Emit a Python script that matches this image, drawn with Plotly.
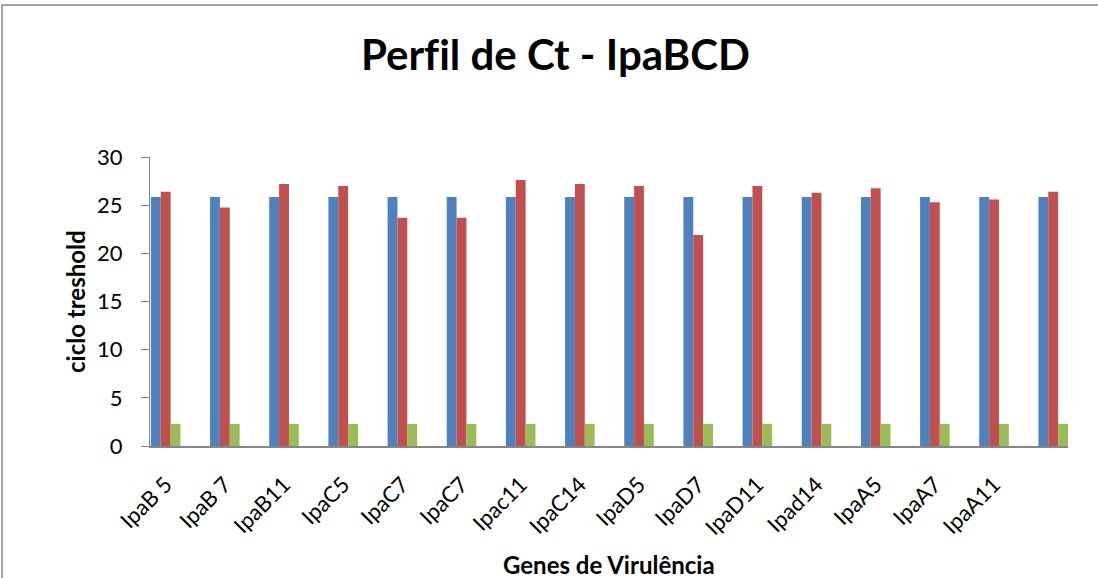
import plotly.graph_objects as go

genes = ["IpaB 5", "IpaB 7", "IpaB11", "IpaC5", "IpaC7", "IpaC7", "Ipac11", "IpaC14",
         "IpaD5", "IpaD7", "IpaD11", "Ipad14", "IpaA5", "IpaA7", "IpaA11", ""]
serie_azul = [25.85] * 16
serie_vermelha = [26.4, 24.75, 27.2, 27.0, 23.7, 23.7, 27.6, 27.2,
                  27.0, 21.9, 27.0, 26.3, 26.75, 25.3, 25.6, 26.4]
serie_verde = [2.3] * 16
y_ticks = [0, 5, 10, 15, 20, 25, 30]

positions = list(range(len(genes)))

W, H = 1098, 578
L, R, T, B = 150, 1068, 157, 446
pw, ph = R - L, B - T

def px(x):
    return (x - L) / pw

def py(y):
    return (B - y) / ph

FONT = "Lato"

fig = go.Figure()
for vals, col in [(serie_azul, "#4F81BD"), (serie_vermelha, "#C0504D"), (serie_verde, "#9BBB59")]:
    fig.add_trace(go.Bar(x=positions, y=vals, marker=dict(color=col, line=dict(width=0)),
                         showlegend=False))

fig.update_layout(
    width=W, height=H,
    margin=dict(l=L, r=W - R, t=T, b=H - B, autoexpand=False),
    paper_bgcolor="white", plot_bgcolor="white",
    barmode="group", bargap=0.5, bargroupgap=0,
    font=dict(family=FONT, color="black"),
    xaxis=dict(range=[-0.265, 15.25], tickmode="array", tickvals=positions, ticktext=genes,
               tickangle=-45, showline=True, linecolor="#868686", linewidth=2,
               ticks="", showgrid=False, zeroline=False,
               tickfont=dict(family=FONT, size=22, color="black"),
               ticklabelstandoff=15),
    yaxis=dict(range=[0, 30], tickmode="array", tickvals=y_ticks,
               showline=True, linecolor="#868686", linewidth=1,
               ticks="outside", ticklen=8, tickcolor="#868686", tickwidth=1,
               showgrid=False, zeroline=False,
               tickfont=dict(family=FONT, size=22, color="black"),
               ticklabelstandoff=14),
    shapes=[dict(type="rect", xref="paper", yref="paper",
                 x0=px(2), x1=px(1110), y0=py(600), y1=py(5),
                 line=dict(color="#888888", width=1.5), fillcolor="rgba(0,0,0,0)")],
    annotations=[
        dict(text="<b>Perf\u200cil de Ct - IpaBCD</b>", xref="paper", yref="paper",
             x=px(555), y=py(54), xanchor="center", yanchor="middle", showarrow=False,
             font=dict(family=FONT, size=42, color="black")),
        dict(text="<b>ciclo treshold</b>", xref="paper", yref="paper",
             x=px(75), y=py(302), xanchor="center", yanchor="middle", showarrow=False,
             textangle=-90, font=dict(family=FONT, size=24, color="black")),
        dict(text="<b>Genes de Virulência</b>", xref="paper", yref="paper",
             x=px(609), y=py(564), xanchor="center", yanchor="middle", showarrow=False,
             font=dict(family=FONT, size=24, color="black")),
    ],
)

fig.write_html("out.html", config={"displayModeBar": False},
               post_script="document.body.style.margin='0';document.body.style.overflow='hidden';")
